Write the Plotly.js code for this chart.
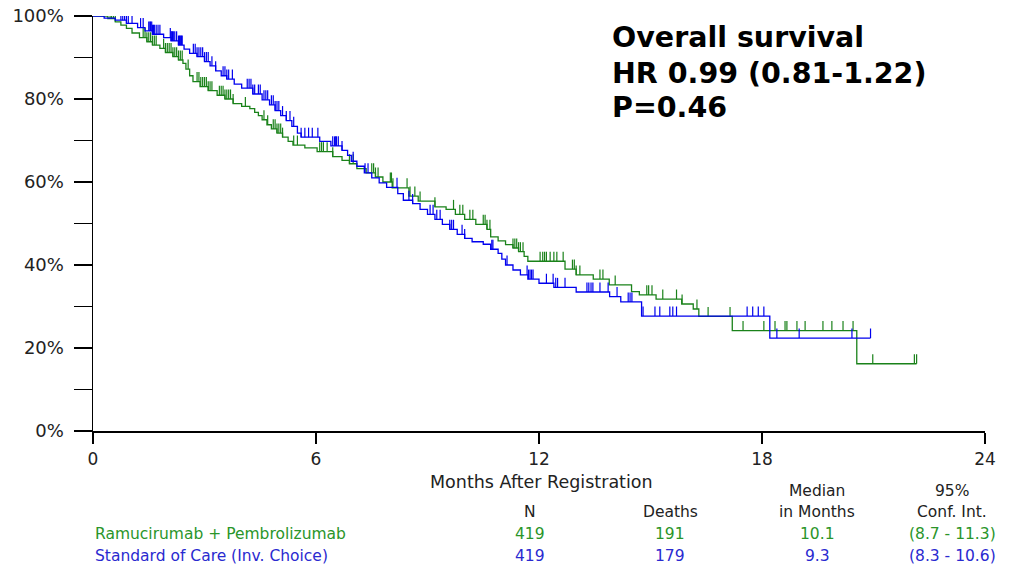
<!DOCTYPE html>
<html>
<head>
<meta charset="utf-8">
<script src="https://cdn.plot.ly/plotly-3.0.1.min.js"></script>
<style>html,body{margin:0;padding:0;background:#fff;}#chart{width:1015px;height:566px;}</style>
</head>
<body>
<div id="chart"></div>
<script>
// ---- Data ----
const greenName = "Ramucirumab + Pembrolizumab";
const blueName = "Standard of Care (Inv. Choice)";

// Kaplan-Meier step points: time (months), survival (%) after each drop
const greenTimes = [0,0.4,0.6,0.75,0.9,1.05,1.25,1.45,1.6,1.8,1.95,2.15,2.3,2.42,2.5,2.6,2.69,2.88,3.1,3.34,3.55,3.77,4.0,4.22,4.35,4.45,4.55,4.68,4.8,4.95,5.1,5.25,5.38,5.7,6.03,6.45,6.7,6.9,7.1,7.35,7.6,7.8,8.05,8.5,8.75,9.2,9.5,9.75,10.0,10.3,10.6,10.7,10.9,11.1,11.3,11.45,11.6,11.7,12.7,13.0,13.46,13.89,14.49,14.7,15.15,15.84,16.15,16.3,17.2,20.55,22.16];
const greenSurv  = [100,99.4,98.6,97.8,97.0,95.9,94.8,93.8,93.0,92.2,91.2,90.2,89.4,88.6,87.2,85.6,84.2,83.0,82.0,80.9,80.0,78.9,78.2,77.7,76.8,76.0,75.0,73.8,72.8,71.8,70.8,69.8,68.9,68.2,67.3,66.1,65.2,64.4,63.2,62.2,61.2,60.0,58.6,56.6,55.4,54.0,53.4,52.2,51.0,49.8,48.6,46.8,45.8,44.9,44.1,43.2,42.1,40.9,39.0,37.6,36.6,35.2,33.6,32.8,31.8,30.6,29.4,27.6,24.2,16.2,16.2];

const blueTimes = [0,0.3,0.6,0.9,1.2,1.4,1.6,1.9,2.1,2.3,2.45,2.6,2.8,3.0,3.15,3.3,3.45,3.6,3.8,4.0,4.3,4.55,4.75,4.9,5.05,5.2,5.35,5.5,5.6,6.1,6.4,6.7,6.85,6.95,7.1,7.3,7.5,7.7,7.9,8.2,8.35,8.6,8.8,9.0,9.2,9.4,9.6,9.8,10.0,10.2,10.5,10.7,10.9,11.0,11.1,11.3,11.5,11.7,12.0,12.4,13.0,13.9,14.2,14.76,18.21,20.92];
const blueSurv  = [100,99.5,99.0,98.2,97.2,96.4,95.6,94.8,94.0,93.0,92.0,91.0,90.2,89.0,88.0,86.8,85.6,84.8,83.6,82.6,81.2,79.8,78.6,77.2,76.0,74.8,73.4,71.8,70.8,69.8,68.7,67.6,66.4,65.0,63.8,62.2,61.0,59.8,58.7,57.2,55.6,54.8,53.4,52.2,51.0,49.8,48.6,47.4,46.4,45.6,45.0,43.8,42.8,41.4,40.0,38.8,37.6,36.6,35.6,34.6,33.5,32.4,31.1,27.7,22.4,22.4];

// Censoring times (months)
const greenCensor = [0.46,0.5,0.55,0.6,1.35,1.4,1.45,1.5,1.55,1.6,1.65,1.7,1.9,1.95,2.0,2.05,2.1,2.15,2.2,2.25,2.3,2.35,2.4,2.56,2.8,2.85,2.9,2.95,3.0,3.05,3.1,3.15,3.2,3.4,3.45,3.5,3.55,3.6,3.65,3.7,3.77,4.1,4.6,4.7,4.85,4.9,4.95,5.0,5.05,5.1,5.4,5.5,6.1,6.15,6.2,6.3,6.45,6.9,7.0,7.5,7.55,7.6,7.67,8.0,8.03,8.07,8.45,8.53,8.66,8.8,9.2,9.7,9.87,9.95,10.14,10.22,10.5,10.55,10.6,10.68,11.3,11.35,11.4,11.45,11.5,11.57,12.03,12.1,12.15,12.2,12.3,12.4,12.48,12.65,12.9,12.95,13.0,13.1,13.64,13.72,14.05,14.9,14.95,15.04,15.33,15.7,15.85,16.25,16.55,17.14,17.49,18.05,18.35,18.62,18.67,18.94,19.16,19.64,19.88,20.18,20.45,20.98,22.1,22.16];
const blueCensor = [0.05,0.08,0.1,0.12,0.15,0.18,0.2,0.22,0.25,0.28,0.75,0.8,0.85,0.9,0.95,1.05,1.28,1.35,1.5,1.53,1.55,1.58,1.6,1.63,1.65,1.7,1.75,1.8,2.08,2.1,2.12,2.14,2.16,2.2,2.25,2.3,2.33,2.35,2.38,2.4,2.7,2.75,2.8,2.85,2.9,2.95,3.0,3.05,3.1,3.2,3.3,3.5,3.55,3.6,3.65,3.75,4.15,4.2,4.25,4.3,4.35,4.45,4.5,4.6,4.65,4.7,4.8,4.85,4.9,4.95,5.0,5.1,5.2,5.3,5.4,5.6,5.7,5.8,5.9,6.05,6.45,6.5,6.53,6.55,6.6,6.7,7.0,7.32,7.4,8.18,8.5,8.6,9.07,9.15,9.25,9.34,9.6,9.65,9.7,9.93,10.0,10.73,10.76,11.14,11.68,11.72,11.76,11.8,11.84,12.2,12.38,12.45,12.5,12.7,13.29,13.34,13.4,13.45,13.64,13.86,14.1,14.4,14.45,14.5,14.8,15.12,15.25,15.52,15.6,15.7,17.6,17.75,17.9,18.05,18.4,19.0,20.42,20.92];

// Axis ticks
const xTicks = [0,6,12,18,24];
const yTickVals = [0,10,20,30,40,50,60,70,80,90,100];
const yTickText = ["0%","","20%","","40%","","60%","","80%","","100%"];

// Summary table
const statLines = ["Overall survival","HR 0.99 (0.81-1.22)","P=0.46"];
const tableHeadTop = ["","","Median","95%"];
const tableHead = ["N","Deaths","in Months","Conf. Int."];
const groupNames = [greenName, blueName];
const nValues = ["419","419"];
const deathValues = ["191","179"];
const medianValues = ["10.1","9.3"];
const ciValues = ["(8.7 - 11.3)","(8.3 - 10.6)"];

// ---- Styles ----
const GREEN = "#1a821a";
const BLUE = "#0000ee";
const GREEN_TXT = "#2a952a";
const BLUE_TXT = "#2a2ad0";
const FONT = "DejaVu Sans, Verdana, sans-serif";

function survAt(times, surv, t){
  let v = surv[0];
  for (let i=0;i<times.length;i++){ if (times[i] <= t) v = surv[i]; else break; }
  return v;
}

function curve(times, surv, color, name){
  return {x: times, y: surv, mode:"lines", line:{shape:"hv", color:color, width:1.3}, name:name, hoverinfo:"skip", cliponaxis:false};
}
function censor(ct, times, surv, color){
  return {x: ct, y: ct.map(t=>survAt(times,surv,t)), mode:"markers", marker:{size:0.1, color:color, opacity:0},
    error_y:{type:"constant", symmetric:false, value:2.3, valueminus:0, width:0, thickness:1.2, color:color},
    hoverinfo:"skip", cliponaxis:false};
}

const traces = [
  curve(greenTimes, greenSurv, GREEN, greenName),
  censor(greenCensor, greenTimes, greenSurv, GREEN),
  curve(blueTimes, blueSurv, BLUE, blueName),
  censor(blueCensor, blueTimes, blueSurv, BLUE)
];

// layout helpers (pixel -> paper)
const L=93, T=16, W=892, H=415;
const px = x => (x - L)/W;
const py = y => (T + H - y)/H;

const ann = [];
const statY = [37, 73, 107];
statLines.forEach((s,i)=>ann.push({text:s, xref:"paper", yref:"paper", x:px(610), y:py(statY[i]), xanchor:"left", yanchor:"middle", showarrow:false,
  font:{family:FONT, size:28.5, color:"#000", weight:"bold"}}));

ann.push({text:"Months After Registration", xref:"paper", yref:"paper", x:px(541), y:py(482), xanchor:"center", yanchor:"middle", showarrow:false, font:{family:FONT, size:17.5, color:"#222"}});

const TF = 15.5;
const colX = [530, 670, 817, 952];
tableHeadTop.forEach((s,i)=>{ if(s) ann.push({text:s, xref:"paper", yref:"paper", x:px(colX[i]), y:py(491), xanchor:"center", yanchor:"middle", showarrow:false, font:{family:FONT, size:TF, color:"#222"}}); });
tableHead.forEach((s,i)=>ann.push({text:s, xref:"paper", yref:"paper", x:px(colX[i]), y:py(512), xanchor:"center", yanchor:"middle", showarrow:false, font:{family:FONT, size:TF, color:"#222"}}));
const rowY = [534, 556];
const rowCol = [GREEN_TXT, BLUE_TXT];
groupNames.forEach((g,r)=>{
  ann.push({text:g, xref:"paper", yref:"paper", x:px(93), y:py(rowY[r]), xanchor:"left", yanchor:"middle", showarrow:false, font:{family:FONT, size:TF, color:rowCol[r]}});
  [nValues[r], deathValues[r], medianValues[r], ciValues[r]].forEach((v,i)=>ann.push({text:v, xref:"paper", yref:"paper", x:px(colX[i]), y:py(rowY[r]), xanchor:"center", yanchor:"middle", showarrow:false, font:{family:FONT, size:TF, color:rowCol[r]}}));
});

const layout = {
  width:1015, height:566,
  margin:{l:L, r:1015-L-W, t:T, b:566-T-H, pad:0},
  paper_bgcolor:"#fff", plot_bgcolor:"#fff",
  showlegend:false,
  xaxis:{range:[0,24], tickvals:xTicks, ticks:"outside", ticklen:11, tickwidth:1.3, tickcolor:"#000",
    showline:true, linecolor:"#000", linewidth:1.5, showgrid:false, zeroline:false,
    tickfont:{family:FONT, size:17, color:"#222"}, ticklabelstandoff:1},
  yaxis:{range:[0,100], tickvals:yTickVals, ticktext:yTickText, ticks:"outside", ticklen:18, tickwidth:1.3, tickcolor:"#000",
    showline:true, linecolor:"#000", linewidth:1.5, showgrid:false, zeroline:false,
    tickfont:{family:FONT, size:18, color:"#222"}, ticklabelstandoff:6},
  annotations:ann
};

Plotly.newPlot("chart", traces, layout, {displayModeBar:false, staticPlot:true});
</script>
</body>
</html>
